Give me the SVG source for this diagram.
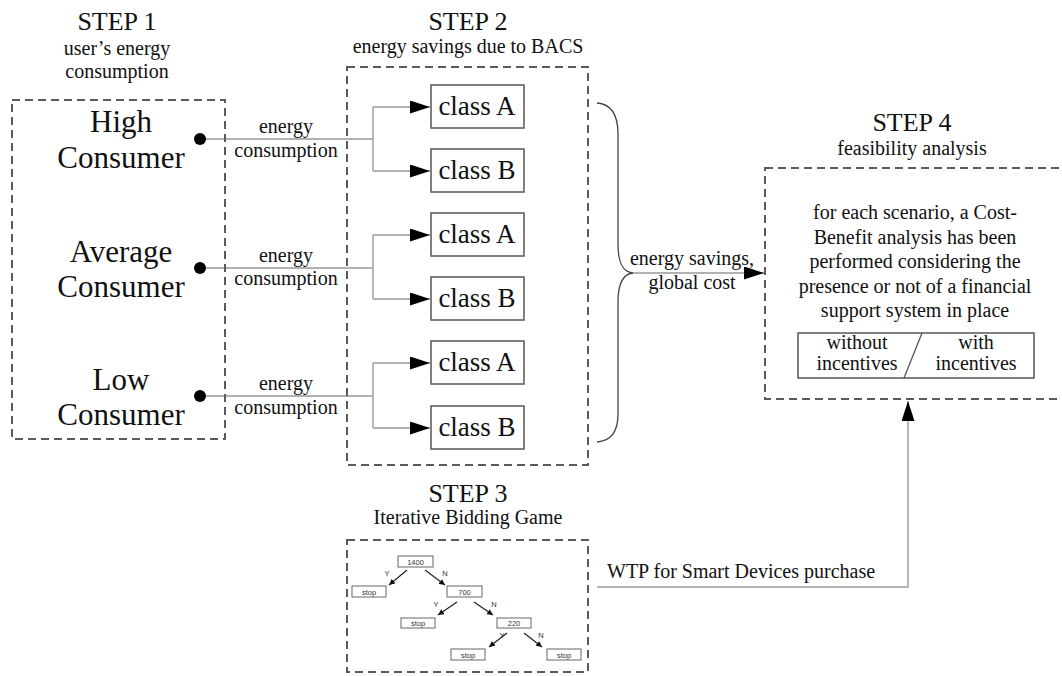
<svg xmlns="http://www.w3.org/2000/svg" width="1062" height="676" viewBox="0 0 1062 676">
<defs>
<style>
.dash{fill:none;stroke:#5a5a5a;stroke-width:2;stroke-dasharray:8 5}
.t{font-family:"Liberation Serif","Times New Roman",serif;fill:#111;text-anchor:middle}
.step{font-size:26px}
.sub{font-size:20px}
.big{font-size:31px}
.lbl{font-size:20px}
.cls{font-size:27px}
.para{font-size:20px}
.box{fill:#fff;stroke:#555;stroke-width:1.5}
.ln{fill:none;stroke:#999;stroke-width:1.4}
.tr{font-family:"Liberation Sans",Arial,sans-serif;font-size:7.5px;fill:#333;text-anchor:middle}
.tbox{fill:#fff;stroke:#666;stroke-width:1}
.tarr{stroke:#222;stroke-width:1.2;fill:none}
</style>
<marker id="ah" viewBox="0 0 20 13" refX="20" refY="6.5" markerWidth="20" markerHeight="13" markerUnits="userSpaceOnUse" orient="auto">
<path d="M0,0 L20,6.5 L0,13 z" fill="#000"/>
</marker>
<marker id="sah" viewBox="0 0 10 10" refX="10" refY="5" markerWidth="6" markerHeight="6" markerUnits="userSpaceOnUse" orient="auto">
<path d="M0,0 L10,5 L0,10 z" fill="#111"/>
</marker>
</defs>
<rect width="1062" height="676" fill="#fff"/>

<g id="connectors">
<path class="ln" d="M200,139 H373 M373,107 V171"/>
<path class="ln" d="M373,107 H430" marker-end="url(#ah)"/>
<path class="ln" d="M373,171 H430" marker-end="url(#ah)"/>
<path class="ln" d="M200,268 H373 M373,235 V299"/>
<path class="ln" d="M373,235 H430" marker-end="url(#ah)"/>
<path class="ln" d="M373,299 H430" marker-end="url(#ah)"/>
<path class="ln" d="M200,396 H373 M373,363 V428"/>
<path class="ln" d="M373,363 H430" marker-end="url(#ah)"/>
<path class="ln" d="M373,428 H430" marker-end="url(#ah)"/>
<circle cx="200" cy="139" r="6" fill="#000"/>
<circle cx="200" cy="268" r="6" fill="#000"/>
<circle cx="200" cy="396" r="6" fill="#000"/>
<text class="t lbl" x="286" y="133">energy</text>
<text class="t lbl" x="286" y="157">consumption</text>
<text class="t lbl" x="286" y="262">energy</text>
<text class="t lbl" x="286" y="285">consumption</text>
<text class="t lbl" x="286" y="390">energy</text>
<text class="t lbl" x="286" y="414">consumption</text>
<path d="M597,103 C611,104 618,114 618,134 L618,244 C618,262 622,272 633,273 C622,274 618,285 618,302 L618,414 C618,432 611,441 597,442" fill="none" stroke="#444" stroke-width="1.3"/>
<path class="ln" d="M633,273 H764" marker-end="url(#ah)"/>
<text class="t lbl" x="692" y="265">energy savings,</text>
<text class="t lbl" x="692" y="289">global cost</text>
<path class="ln" d="M597,587 H908 V401" marker-end="url(#ah)"/>
<text x="607" y="578" font-family="Liberation Serif, Times New Roman, serif" font-size="20" fill="#111">WTP for Smart Devices purchase</text>
</g>

<g id="step1">
<text class="t step" x="117" y="30">STEP 1</text>
<text class="t sub" x="117" y="55">user’s energy</text>
<text class="t sub" x="117" y="78">consumption</text>
<rect class="dash" x="12" y="100" width="213" height="339"/>
<text class="t big" x="121" y="132">High</text>
<text class="t big" x="121" y="168">Consumer</text>
<text class="t big" x="121" y="262">Average</text>
<text class="t big" x="121" y="297">Consumer</text>
<text class="t big" x="121" y="390">Low</text>
<text class="t big" x="121" y="425">Consumer</text>
</g>

<g id="step2">
<text class="t step" x="468" y="30">STEP 2</text>
<text class="t sub" x="468" y="53">energy savings due to BACS</text>
<rect class="dash" x="347" y="67" width="241" height="398"/>
<rect class="box" x="431" y="85" width="93" height="43"/>
<text class="t cls" x="477" y="115">class A</text>
<rect class="box" x="431" y="149" width="93" height="43"/>
<text class="t cls" x="477" y="179">class B</text>
<rect class="box" x="431" y="213" width="93" height="43"/>
<text class="t cls" x="477" y="243">class A</text>
<rect class="box" x="431" y="277" width="93" height="43"/>
<text class="t cls" x="477" y="307">class B</text>
<rect class="box" x="431" y="341" width="93" height="43"/>
<text class="t cls" x="477" y="371">class A</text>
<rect class="box" x="431" y="406" width="93" height="43"/>
<text class="t cls" x="477" y="436">class B</text>
</g>

<g id="step3">
<text class="t step" x="468" y="502">STEP 3</text>
<text class="t sub" x="468" y="524">Iterative Bidding Game</text>
<rect class="dash" x="347" y="540" width="241" height="132"/>
<rect class="tbox" x="398" y="556" width="35" height="11"/>
<text class="tr" x="415.5" y="564.5">1400</text>
<rect class="tbox" x="352" y="586" width="34" height="11"/>
<text class="tr" x="369" y="594.5">stop</text>
<rect class="tbox" x="447" y="586" width="35" height="11"/>
<text class="tr" x="464.5" y="594.5">700</text>
<rect class="tbox" x="401" y="618" width="34" height="10"/>
<text class="tr" x="418" y="626">stop</text>
<rect class="tbox" x="497" y="618" width="34" height="10"/>
<text class="tr" x="514" y="626">220</text>
<rect class="tbox" x="451" y="649" width="34" height="11"/>
<text class="tr" x="468" y="657.5">stop</text>
<rect class="tbox" x="547" y="649" width="34" height="11"/>
<text class="tr" x="564" y="657.5">stop</text>
<path class="tarr" d="M407,570 L389,585" marker-end="url(#sah)"/>
<path class="tarr" d="M425,570 L445,585" marker-end="url(#sah)"/>
<path class="tarr" d="M457,602 L438,615" marker-end="url(#sah)"/>
<path class="tarr" d="M474,602 L493,615" marker-end="url(#sah)"/>
<path class="tarr" d="M507,633 L489,647" marker-end="url(#sah)"/>
<path class="tarr" d="M524,633 L542,647" marker-end="url(#sah)"/>
<text class="tr" x="387" y="576">Y</text>
<text class="tr" x="445" y="576">N</text>
<text class="tr" x="436" y="607">Y</text>
<text class="tr" x="494" y="607">N</text>
<text class="tr" x="502" y="638">Y</text>
<text class="tr" x="541" y="638">N</text>
</g>

<g id="step4">
<text class="t step" x="912" y="131">STEP 4</text>
<text class="t sub" x="912" y="155">feasibility analysis</text>
<rect class="dash" x="765" y="168" width="310" height="231"/>
<text class="t para" x="915" y="219">for each scenario, a Cost-</text>
<text class="t para" x="915" y="244">Benefit analysis has been</text>
<text class="t para" x="915" y="268">performed considering the</text>
<text class="t para" x="915" y="293">presence or not of a financial</text>
<text class="t para" x="915" y="317">support system in place</text>
<rect class="box" x="798" y="333" width="236" height="45"/>
<path d="M922,333 L904,378" stroke="#555" stroke-width="1.3" fill="none"/>
<text class="t lbl" x="857" y="349">without</text>
<text class="t lbl" x="857" y="370">incentives</text>
<text class="t lbl" x="976" y="349">with</text>
<text class="t lbl" x="976" y="370">incentives</text>
</g>
</svg>
